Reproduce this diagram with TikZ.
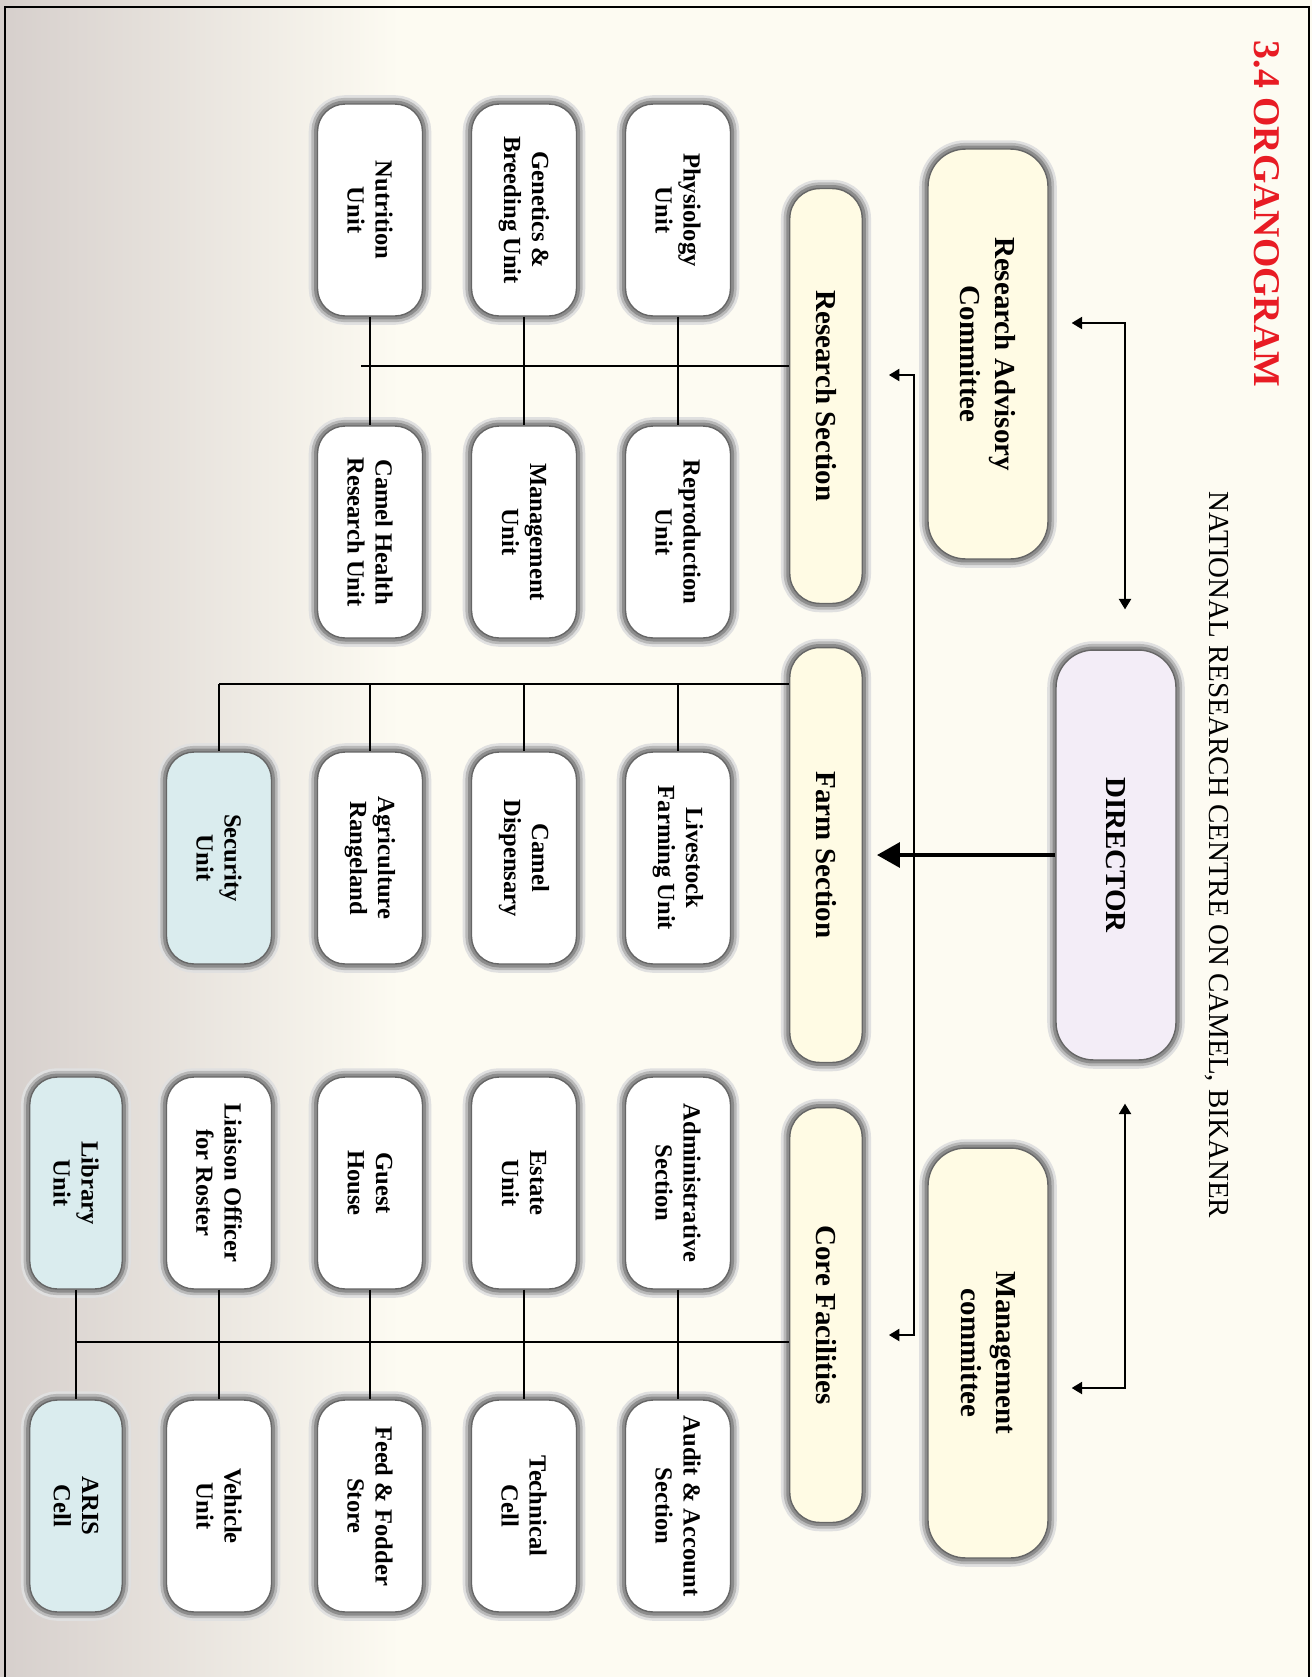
\documentclass[tikz,border=0pt]{standalone}
\usepackage{fontspec}
\setmainfont{Liberation Serif}
\usetikzlibrary{arrows.meta,calc}
\definecolor{paper}{RGB}{253,251,242}
\definecolor{paperleft}{RGB}{214,207,204}
\definecolor{titlered}{RGB}{232,28,36}
\definecolor{cream}{RGB}{255,251,228}
\definecolor{lavender}{RGB}{243,237,247}
\definecolor{paleblue}{RGB}{218,236,238}
\newcommand\titlefnt{\fontsize{21.5}{25}\selectfont\bfseries}
\newcommand\subfnt{\fontsize{16.5}{19}\selectfont}
\newcommand\headfnt{\fontsize{16.5}{20}\selectfont\bfseries}
\newcommand\unitfnt{\fontsize{14}{16}\selectfont\bfseries}
\tikzset{glow/.style={draw=black!60,line width=.8pt,
  preaction={draw=black!12,line width=10pt},
  preaction={draw=black!28,line width=7pt},
  preaction={draw=black!45,line width=4pt}},
 unit/.style={glow,rounded corners=.55cm,fill=white,rotate=-90,align=center,
  minimum width=4.24cm,minimum height=2.1cm,font=\unitfnt},
 section/.style={glow,rounded corners=.6cm,fill=cream,rotate=-90,
  minimum width=8.3cm,minimum height=1.45cm,font=\headfnt},
 comm/.style={glow,rounded corners=.75cm,fill=cream,rotate=-90,align=center,
  minimum width=8.2cm,minimum height=2.4cm,font=\headfnt},
 link/.style={line width=1pt},
 arr/.style={line width=1pt,{Triangle[length=6pt,width=7pt]}-{Triangle[length=6pt,width=7pt]}},
 bigarr/.style={line width=2.3pt,-{Triangle[length=13pt,width=14pt]}},
 frame/.style={line width=1.2pt}}

\begin{document}
\begin{tikzpicture}[x=.02cm,y=-.02cm]
\useasboundingbox (0,0) rectangle (1312,1677);
\fill[paper] (0,0) rectangle (1312,1677);
\shade[left color=paperleft,right color=paper] (0,0) rectangle (400,1677);
\draw[frame] (5,1677)--(5,7)--(1309,7)--(1309,1677);

\node[rotate=-90,font=\titlefnt,text=titlered] (ttl) at (1267,214) {3.4 ORGANOGRAM};
\node[rotate=-90,font=\subfnt] (sub) at (1217,855) {NATIONAL RESEARCH CENTRE ON CAMEL, BIKANER};

\node[comm] (rac) at (988,354) {Research Advisory\\Committee};
\node[comm,fill=lavender] (dir) at (1116,855) {DIRECTOR};
\node[comm] (mc) at (988,1353) {Management\\committee};

\node[section] (rsec) at (826,396) {Research Section};
\node[section] (fsec) at (826,855) {Farm Section};
\node[section] (csec) at (826,1315) {Core Facilities};

\foreach \n/\x/\y/\t in {
phys/678/210/{Physiology\\Unit},gen/524/210/{Genetics \&\\Breeding Unit},
nutr/370/210/{Nutrition\\Unit},repr/678/532/{Reproduction\\Unit},
mgmt/524/532/{Management\\Unit},chr/370/532/{Camel Health\\Research Unit},
live/678/858/{Livestock\\Farming Unit},disp/524/858/{Camel\\Dispensary},
agri/370/858/{Agriculture\\Rangeland},
adm/678/1183/{Administrative\\Section},est/524/1183/{Estate\\Unit},
guest/370/1183/{Guest\\House},liai/219/1183/{Liaison Officer\\for Roster},
aud/678/1506/{Audit \& Account\\Section},tech/524/1506/{Technical\\Cell},
feed/370/1506/{Feed \& Fodder\\Store},veh/219/1506/{Vehicle\\Unit}}
 \node[unit] (\n) at (\x,\y) {\t};
\node[unit,fill=paleblue] (secu) at (219,858) {Security\\Unit};
\node[unit,fill=paleblue,minimum height=1.85cm] (lib) at (76,1183) {Library\\Unit};
\node[unit,fill=paleblue,minimum height=1.85cm] (aris) at (76,1506) {ARIS\\Cell};

% research section
\draw[link] (rsec.south |- 0,366) -- ([xshift=-5]nutr |- 0,366);
\foreach \a/\b in {phys/repr,gen/mgmt,nutr/chr} \draw[link] (\a.east) -- (\b.west);
% farm section
\draw[link] (fsec.south |- 0,684) -- (secu |- 0,684);
\foreach \u in {live,disp,agri,secu} \draw[link] (\u |- 0,684) -- (\u.west);
% core facilities
\draw[link] (csec.south |- 0,1342) -- (lib |- 0,1342);
\foreach \a/\b in {adm/aud,est/tech,guest/feed,liai/veh,lib/aris} \draw[link] (\a.east) -- (\b.west);

% director and committees
\coordinate (sp1) at (914,375);
\coordinate (sp2) at (914,1335);
\draw[arr,shorten <=.52cm,shorten >=.52cm] (rsec.north |- sp1) -- (sp1) -- (sp2) -- (csec.north |- sp2);
\draw[bigarr,shorten >=.28cm] (dir.south) -- (fsec.north);
\coordinate (rd) at (1125,323);
\coordinate (md) at (1125,1388);
\draw[arr,shorten <=.46cm,shorten >=.8cm] (rac.north |- rd) -- (rd) -- (rd |- dir.west);
\draw[arr,shorten <=.46cm,shorten >=.86cm] (mc.north |- md) -- (md) -- (md |- dir.east);
\end{tikzpicture}
\end{document}
